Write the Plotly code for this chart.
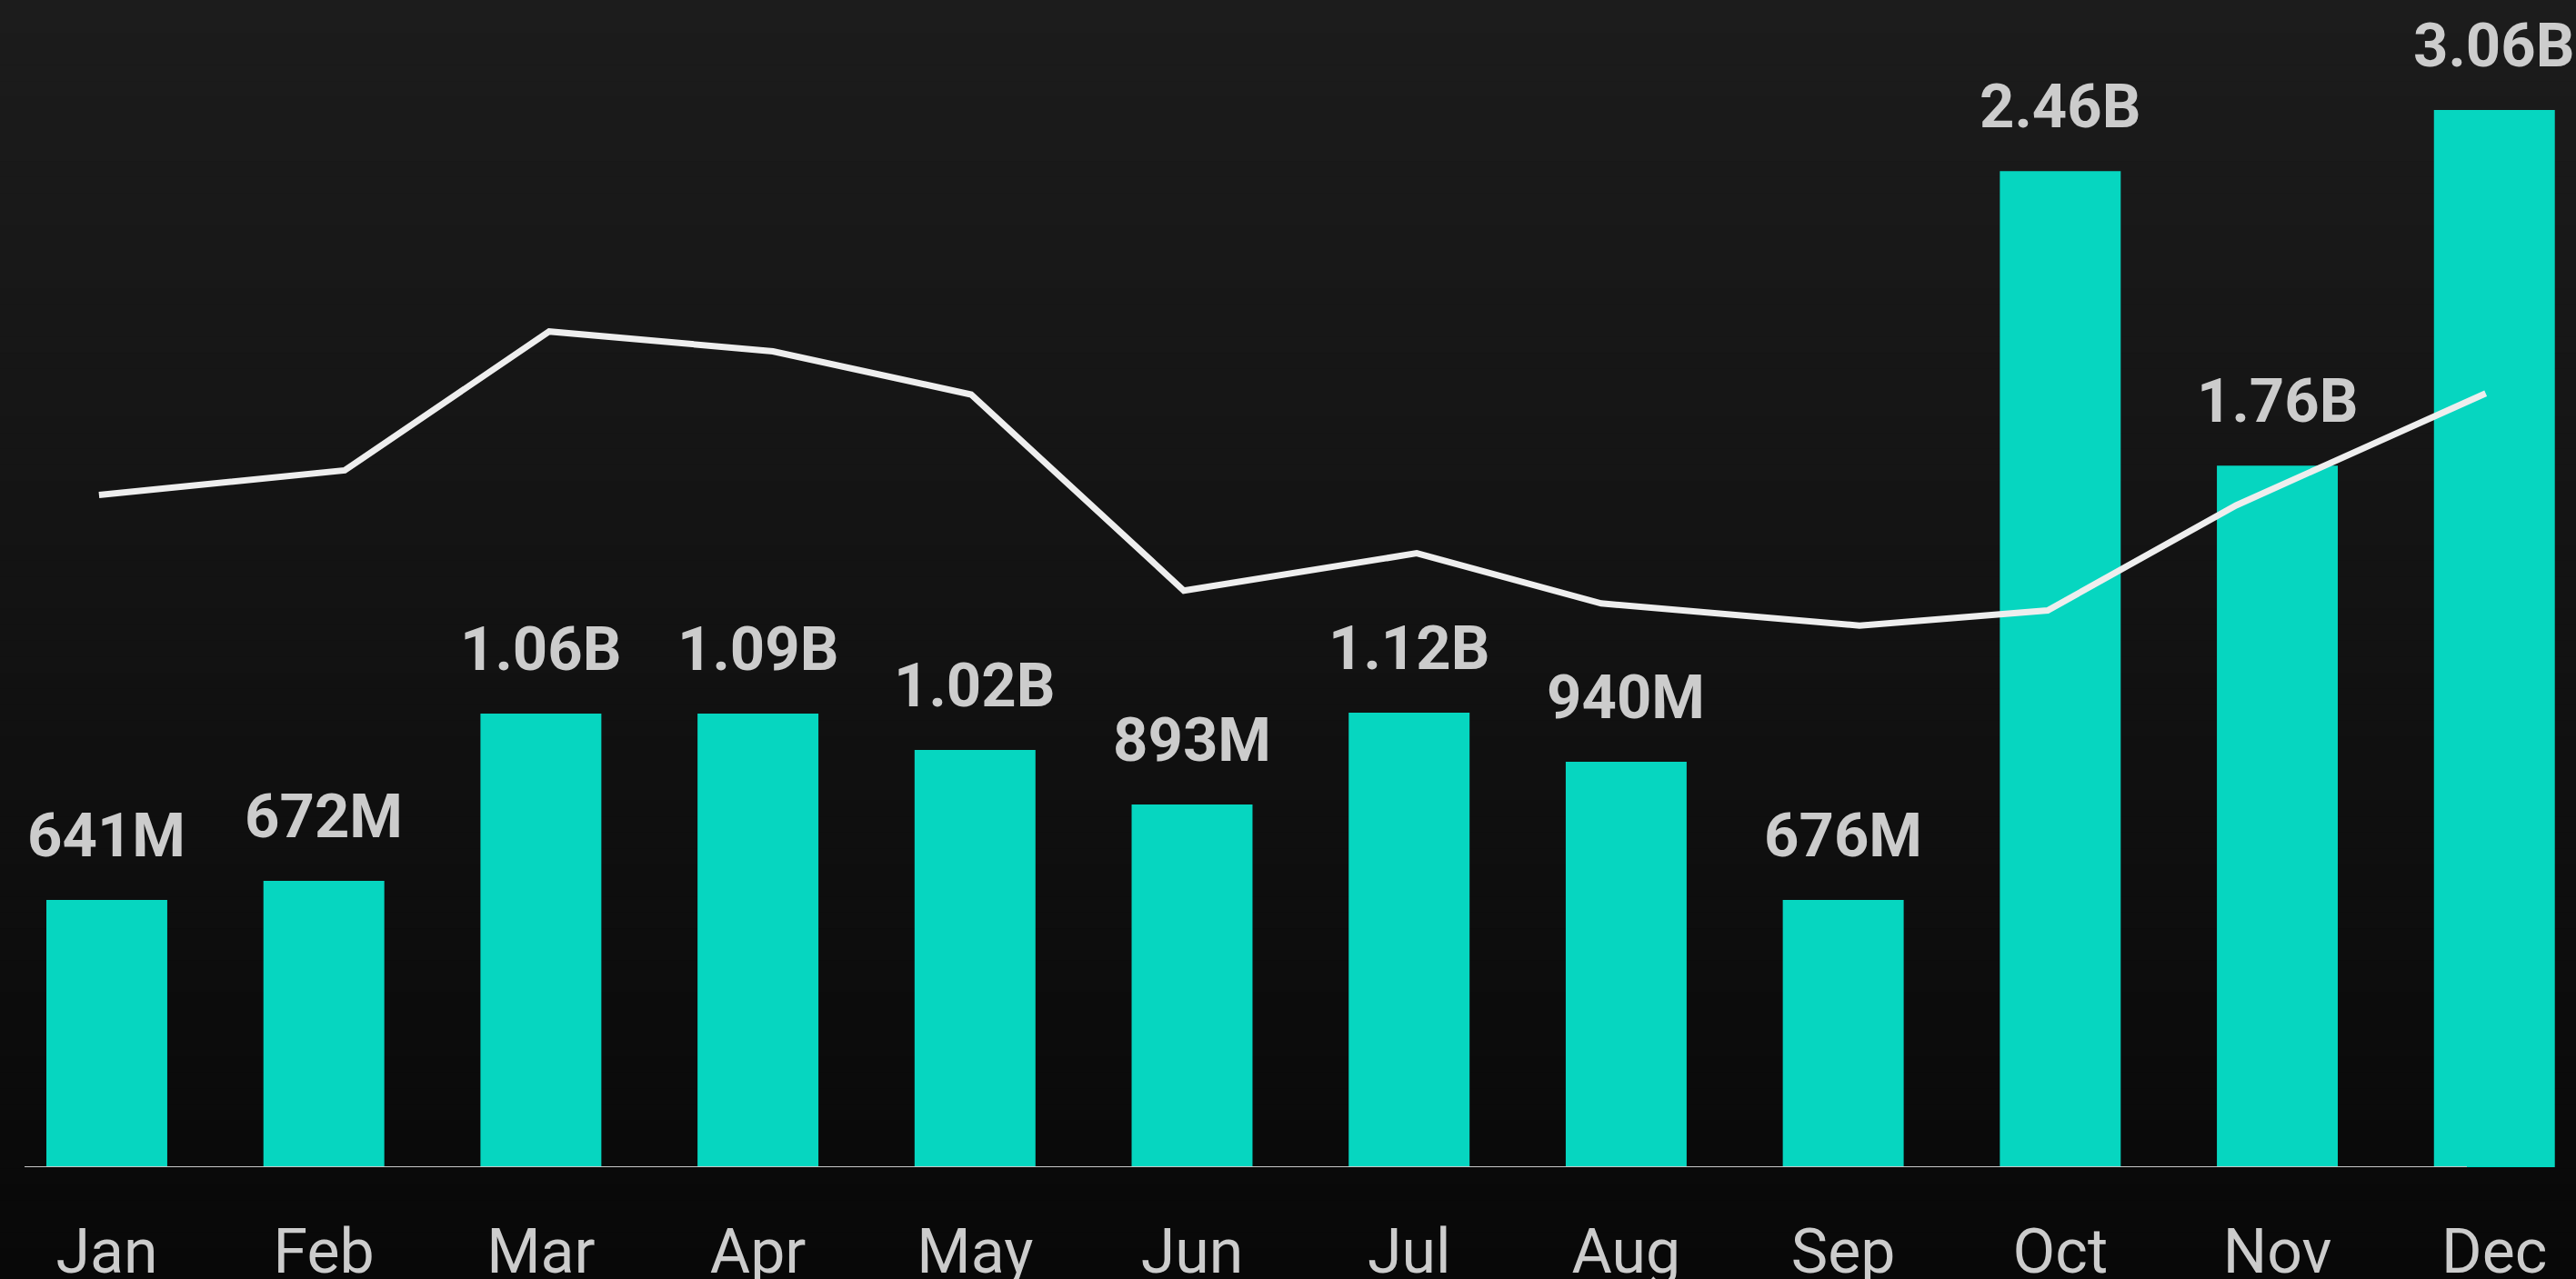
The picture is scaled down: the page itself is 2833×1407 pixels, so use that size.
import plotly.graph_objects as go

months = ["Jan", "Feb", "Mar", "Apr", "May", "Jun", "Jul", "Aug", "Sep", "Oct", "Nov", "Dec"]
# bar heights (millions, as drawn)
bar_values = [647, 693, 1098, 1098, 1010, 878, 1100, 981, 647, 2411, 1698, 2559]
# labels printed above bars
bar_labels = ["641M", "672M", "1.06B", "1.09B", "1.02B", "893M", "1.12B", "940M", "676M", "2.46B", "1.76B", "3.06B"]
# line series (positions along month index, index values)
line_x = [-0.036, 1.096, 2.038, 3.069, 3.982, 4.962, 6.035, 6.885, 8.075, 8.942, 9.810, 10.96]
line_y = [57.6, 59.7, 71.6, 69.9, 66.2, 49.4, 52.6, 48.3, 46.4, 47.7, 56.7, 66.3]

W, H = 2833, 1407
ML, MB = 27, 123
XR = [-0.379, 11.376]
YMAX = 2825

fig = go.Figure()
fig.add_trace(go.Bar(x=months, y=bar_values, marker=dict(color="#06d6c0", line=dict(width=0)),
                     hoverinfo="skip", showlegend=False))
fig.add_trace(go.Scatter(x=line_x, y=line_y, xaxis="x2", yaxis="y2", mode="lines",
                         line=dict(color="#eeeeee", width=7), hoverinfo="skip", showlegend=False))

# gradient background bands
n = 80
shapes = []
plot_h = H - MB
y_lo = -MB / plot_h
for i in range(n):
    f0 = i / n
    f1 = (i + 1) / n
    t = (i + 0.5) / n  # 0 at bottom, 1 at top
    c = int(round(8 + (28 - 8) * t))
    shapes.append(dict(type="rect", xref="paper", yref="paper", x0=-0.02, x1=1.02,
                       y0=y_lo + (1 - y_lo) * f0 - 0.001, y1=y_lo + (1 - y_lo) * f1 + 0.001,
                       fillcolor=f"rgb({c},{c},{c})", line=dict(width=0), layer="below"))
# baseline axis line
shapes.append(dict(type="line", xref="paper", yref="y", x0=0, x1=(2713 - ML) / (W - ML), y0=0, y1=0,
                   line=dict(color="#c8c8c8", width=2), layer="above"))

annotations = []
for m, v, lab in zip(months, bar_values, bar_labels):
    annotations.append(dict(x=m, y=v, xref="x", yref="y", text=lab, showarrow=False,
                            yanchor="bottom", xanchor="center", yshift=30,
                            font=dict(family="Roboto", size=67, color="#cccccc", weight="bold")))

fig.update_layout(
    width=W, height=H,
    margin=dict(l=ML, r=0, t=0, b=MB, autoexpand=False),
    paper_bgcolor="#111111", plot_bgcolor="rgba(0,0,0,0)",
    bargap=0.443,
    shapes=shapes, annotations=annotations,
    xaxis=dict(type="category", range=XR, showgrid=False, zeroline=False, showline=False,
               ticks="", tickfont=dict(family="Roboto", size=68, color="#cccccc"),
               ticklabelstandoff=47, automargin=False, fixedrange=True),
    yaxis=dict(range=[0, YMAX], visible=False, automargin=False, fixedrange=True),
    xaxis2=dict(range=XR, overlaying="x", visible=False),
    yaxis2=dict(range=[0, 100], overlaying="y", visible=False),
)
fig.write_html("out.html", config={"displayModeBar": False},
               post_script="document.body.style.margin='0';document.body.style.padding='0';"
                           "document.body.style.background='#080808';document.body.style.overflow='hidden';")
